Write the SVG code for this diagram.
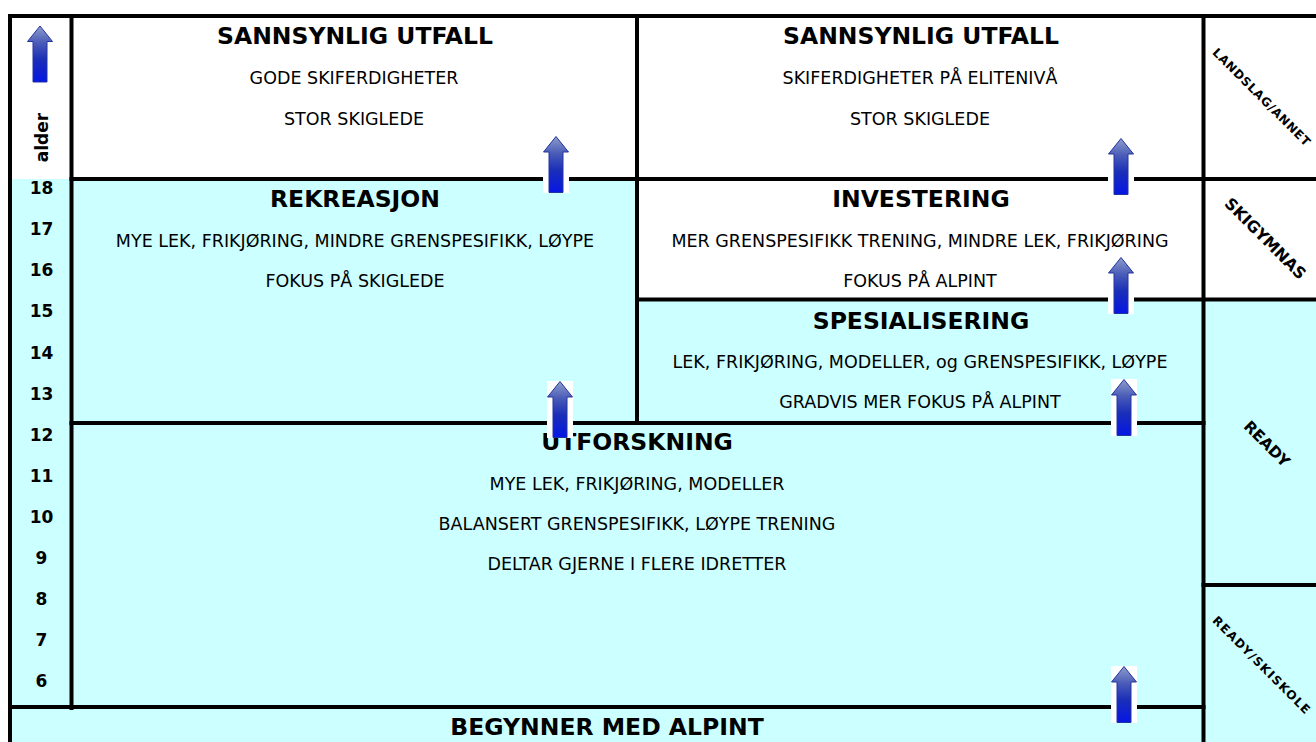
<svg xmlns="http://www.w3.org/2000/svg" width="1316" height="742" viewBox="0 0 1316 742">
<style>
.cy{fill:#CCFFFF}
.wh{fill:#FFFFFF}
.ln{stroke:#000;stroke-width:4;fill:none}
.t{font-family:"DejaVu Sans","Liberation Sans",sans-serif;font-weight:bold;font-size:23.5px;fill:#000;text-anchor:middle}
.r{font-family:"DejaVu Sans","Liberation Sans",sans-serif;font-size:17.5px;fill:#000;text-anchor:middle}
.n{font-family:"DejaVu Sans","Liberation Sans",sans-serif;font-weight:bold;font-size:17px;fill:#000;text-anchor:middle}
.d{font-family:"DejaVu Sans","Liberation Sans",sans-serif;font-weight:bold;fill:#000;text-anchor:middle}
</style>
<defs>
<linearGradient id="ag" x1="0" y1="0" x2="0" y2="1">
<stop offset="0" stop-color="#8e9dcc"/>
<stop offset="0.3" stop-color="#4a5cb8"/>
<stop offset="0.6" stop-color="#1a2eb8"/>
<stop offset="1" stop-color="#0616e4"/>
</linearGradient>
<g id="arrow">
<rect x="-13" y="0" width="26" height="57" fill="#fff"/>
<path d="M0,0.5 L12.5,16 L7,16 L7,56.5 L-7,56.5 L-7,16 L-12.5,16 Z" fill="url(#ag)" stroke="#24349e" stroke-width="1"/>
</g>
</defs>
<rect x="0" y="0" width="1316" height="742" fill="#fff"/>

<g id="age-column">
<rect class="wh" x="10" y="16" width="61.5" height="163"/>
<rect class="cy" x="10" y="179" width="61.5" height="528"/>
<text class="d" font-size="17" transform="translate(48,137.5) rotate(-90)">alder</text>
<text class="n" x="41.5" y="194">18</text>
<text class="n" x="41.5" y="235">17</text>
<text class="n" x="41.5" y="276">16</text>
<text class="n" x="41.5" y="317">15</text>
<text class="n" x="41.5" y="358.5">14</text>
<text class="n" x="41.5" y="399.5">13</text>
<text class="n" x="41.5" y="441">12</text>
<text class="n" x="41.5" y="482">11</text>
<text class="n" x="41.5" y="523">10</text>
<text class="n" x="41.5" y="564">9</text>
<text class="n" x="41.5" y="605">8</text>
<text class="n" x="41.5" y="646">7</text>
<text class="n" x="41.5" y="687">6</text>
</g>

<g id="utfall-left">
<rect class="wh" x="71.5" y="16" width="565.5" height="163"/>
<text class="t" x="355" y="44">SANNSYNLIG UTFALL</text>
<text class="r" x="354" y="84">GODE SKIFERDIGHETER</text>
<text class="r" x="354" y="125">STOR SKIGLEDE</text>
</g>

<g id="utfall-right">
<rect class="wh" x="637" y="16" width="566.5" height="163"/>
<text class="t" x="921" y="44">SANNSYNLIG UTFALL</text>
<text class="r" x="920" y="84">SKIFERDIGHETER PÅ ELITENIVÅ</text>
<text class="r" x="920" y="125">STOR SKIGLEDE</text>
</g>

<g id="rekreasjon">
<rect class="cy" x="71.5" y="179" width="565.5" height="244"/>
<text class="t" x="355" y="207">REKREASJON</text>
<text class="r" x="355" y="247">MYE LEK, FRIKJØRING, MINDRE GRENSPESIFIKK, LØYPE</text>
<text class="r" x="355" y="287">FOKUS PÅ SKIGLEDE</text>
</g>

<g id="investering">
<rect class="wh" x="637" y="179" width="566.5" height="120.5"/>
<text class="t" x="921" y="207">INVESTERING</text>
<text class="r" x="920" y="247">MER GRENSPESIFIKK TRENING, MINDRE LEK, FRIKJØRING</text>
<text class="r" x="920" y="287">FOKUS PÅ ALPINT</text>
</g>

<g id="spesialisering">
<rect class="cy" x="637" y="299.5" width="566.5" height="123.5"/>
<text class="t" x="921" y="329">SPESIALISERING</text>
<text class="r" x="920" y="368">LEK, FRIKJØRING, MODELLER, og GRENSPESIFIKK, LØYPE</text>
<text class="r" x="920" y="408">GRADVIS MER FOKUS PÅ ALPINT</text>
</g>

<g id="utforskning">
<rect class="cy" x="71.5" y="423" width="1132" height="284"/>
<text class="t" x="637" y="450">UTFORSKNING</text>
<text class="r" x="637" y="490">MYE LEK, FRIKJØRING, MODELLER</text>
<text class="r" x="637" y="530">BALANSERT GRENSPESIFIKK, LØYPE TRENING</text>
<text class="r" x="637" y="570">DELTAR GJERNE I FLERE IDRETTER</text>
</g>

<g id="begynner">
<rect class="cy" x="10" y="707" width="1193.5" height="35"/>
<text class="t" x="607" y="735">BEGYNNER MED ALPINT</text>
</g>

<g id="landslag">
<rect class="wh" x="1203.5" y="16" width="112.5" height="163"/>
<text class="d" font-size="12" textLength="132" lengthAdjust="spacing" transform="translate(1258.5,100) rotate(45)">LANDSLAG/ANNET</text>
</g>

<g id="skigymnas">
<rect class="wh" x="1203.5" y="179" width="112.5" height="120.5"/>
<text class="d" font-size="16" transform="translate(1261.5,242.5) rotate(45)">SKIGYMNAS</text>
</g>

<g id="ready">
<rect class="cy" x="1203.5" y="299.5" width="112.5" height="285.5"/>
<text class="d" font-size="15.5" transform="translate(1263,447.5) rotate(45)">READY</text>
</g>

<g id="ready-skiskole">
<rect class="cy" x="1203.5" y="585" width="112.5" height="157"/>
<text class="d" font-size="12" textLength="132" lengthAdjust="spacing" transform="translate(1258.5,668) rotate(45)">READY/SKISKOLE</text>
</g>

<g id="grid-lines">
<path class="ln" d="M8,16 H1316"/>
<path class="ln" d="M10,14 V742"/>
<path class="ln" d="M71.5,14 V710"/>
<path class="ln" d="M637,14 V425"/>
<path class="ln" d="M1203.5,14 V742"/>
<path class="ln" d="M69.5,179 H1316"/>
<path class="ln" d="M635,299.5 H1316"/>
<path class="ln" d="M69.5,423 H1205.5"/>
<path class="ln" d="M1201.5,585 H1316"/>
<path class="ln" d="M8,707 H1205.5"/>
</g>

<g id="connectors">
<use href="#arrow" transform="translate(40,25.5)"/>
<use href="#arrow" transform="translate(556,136)"/>
<use href="#arrow" transform="translate(560,381)"/>
<use href="#arrow" transform="translate(1121,138)"/>
<use href="#arrow" transform="translate(1121,257)"/>
<use href="#arrow" transform="translate(1124,379)"/>
<use href="#arrow" transform="translate(1124,666)"/>
</g>
</svg>
